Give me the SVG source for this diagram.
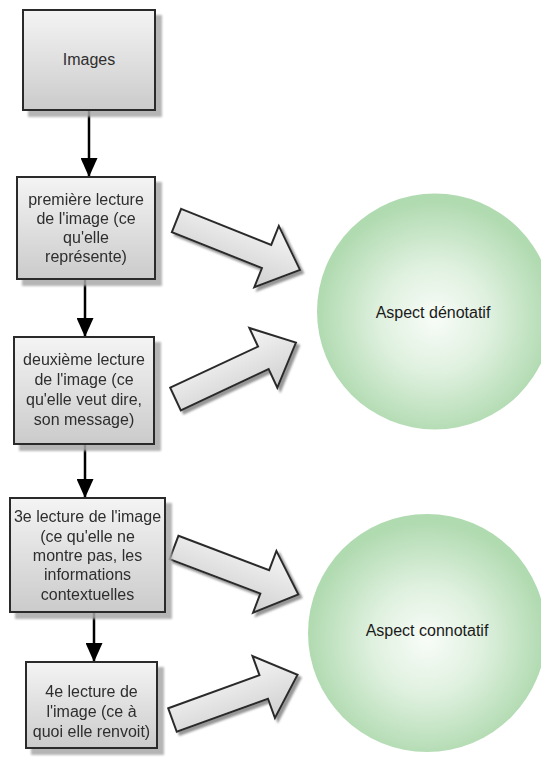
<svg xmlns="http://www.w3.org/2000/svg" xmlns:xlink="http://www.w3.org/1999/xlink" width="541" height="764" viewBox="0 0 541 764">
  <defs>
    <linearGradient id="boxGrad" x1="0" y1="0" x2="0" y2="1">
      <stop offset="0" stop-color="#f4f4f4"/>
      <stop offset="1" stop-color="#cbcbcb"/>
    </linearGradient>
    <linearGradient id="arrGrad" x1="0" y1="0" x2="0" y2="1">
      <stop offset="0" stop-color="#f6f6f6"/>
      <stop offset="1" stop-color="#d0d0d0"/>
    </linearGradient>
    <radialGradient id="circGrad" cx="0.5" cy="0.53" r="0.5">
      <stop offset="0" stop-color="#f8fcf8"/>
      <stop offset="0.45" stop-color="#e0f1e0"/>
      <stop offset="1" stop-color="#b0dab0"/>
    </radialGradient>
    <filter id="boxShadow" x="-10%" y="-10%" width="130%" height="130%">
      <feDropShadow dx="6" dy="6" stdDeviation="1.2" flood-color="#a8a8a8" flood-opacity="0.85"/>
    </filter>
    <filter id="arrShadow" x="-10%" y="-10%" width="130%" height="130%">
      <feDropShadow dx="3" dy="3" stdDeviation="0.8" flood-color="#8a8a8a" flood-opacity="0.9"/>
    </filter>
    <marker id="head" viewBox="0 0 19 17" refX="19" refY="8.5" markerWidth="19" markerHeight="17" markerUnits="userSpaceOnUse" orient="auto">
      <path d="M0,0 L19,8.5 L0,17 Z" fill="#000"/>
    </marker>
    <path id="blockArrow" d="M0,-12.5 H97 V-33 L133,0 L97,33 V12.5 H0 Z"/>
  </defs>
  <style>
    .box { fill: url(#boxGrad); stroke: #2b2b2b; stroke-width: 2; filter: url(#boxShadow); }
    .blk { fill: url(#arrGrad); stroke: #2b2b2b; stroke-width: 2; stroke-linejoin: miter; }
    .circ { fill: url(#circGrad); }
    .conn { stroke: #000; stroke-width: 2.5; fill: none; marker-end: url(#head); }
    text { font-family: "Liberation Sans", Arial, sans-serif; font-size: 16px; fill: #2e2e2e; text-anchor: middle; }
    .ctext { fill: #1a1a1a; }
  </style>
  <rect width="541" height="764" fill="#fff"/>

  <g id="circle-denotatif">
    <circle class="circ" cx="435" cy="311.5" r="118"/>
    <text class="ctext" x="433" y="318">Aspect dénotatif</text>
  </g>
  <g id="circle-connotatif">
    <circle class="circ" cx="427" cy="633" r="119"/>
    <text class="ctext" x="427" y="636">Aspect connotatif</text>
  </g>

  <g id="connectors">
    <line class="conn" x1="89" y1="110" x2="89" y2="177"/>
    <line class="conn" x1="85" y1="279" x2="85" y2="337"/>
    <line class="conn" x1="85" y1="444" x2="85" y2="498"/>
    <line class="conn" x1="94" y1="612" x2="94" y2="662"/>
  </g>

  <g id="block-arrows" filter="url(#arrShadow)">
    <use xlink:href="#blockArrow" class="blk" transform="translate(176.5,220.5) rotate(21.8)"/>
    <use xlink:href="#blockArrow" class="blk" transform="translate(175.5,399) rotate(-25.1)"/>
    <use xlink:href="#blockArrow" class="blk" transform="translate(174,547.5) rotate(20.7)"/>
    <use xlink:href="#blockArrow" class="blk" transform="translate(172.5,720) rotate(-19.9)"/>
  </g>

  <g id="node-images">
    <rect class="box" x="23" y="10" width="132" height="100"/>
    <text x="89" y="65">Images</text>
  </g>
  <g id="node-premiere">
    <rect class="box" x="17" y="177" width="138" height="102"/>
    <text x="86" y="205">première lecture</text>
    <text x="86" y="224">de l'image (ce</text>
    <text x="86" y="243">qu'elle</text>
    <text x="86" y="262">représente)</text>
  </g>
  <g id="node-deuxieme">
    <rect class="box" x="14" y="337" width="140" height="107"/>
    <text x="84" y="365">deuxième lecture</text>
    <text x="84" y="385">de l'image (ce</text>
    <text x="84" y="405">qu'elle veut dire,</text>
    <text x="84" y="425">son message)</text>
  </g>
  <g id="node-troisieme">
    <rect class="box" x="10" y="498" width="155" height="114"/>
    <text x="87.5" y="522">3e lecture de l'image</text>
    <text x="87.5" y="542">(ce qu'elle ne</text>
    <text x="87.5" y="561">montre pas, les</text>
    <text x="87.5" y="580">informations</text>
    <text x="87.5" y="600">contextuelles</text>
  </g>
  <g id="node-quatrieme">
    <rect class="box" x="26" y="662" width="131" height="86"/>
    <text x="91.5" y="697">4e lecture de</text>
    <text x="91.5" y="717">l'image (ce à</text>
    <text x="91.5" y="737">quoi elle renvoit)</text>
  </g>
</svg>
